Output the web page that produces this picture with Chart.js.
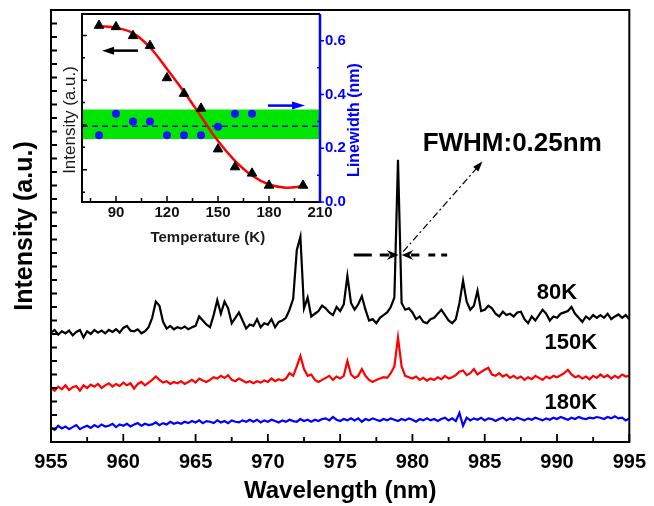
<!DOCTYPE html>
<html>
<head>
<meta charset="utf-8">
<script src="https://cdn.jsdelivr.net/npm/chart.js@4.4.0/dist/chart.umd.min.js"></script>
<style>
  html, body { margin: 0; padding: 0; background: #fff; }
  #wrap { position: relative; width: 654px; height: 506px; }
  #main { position: absolute; left: 0; top: 0; }
  #inset { position: absolute; left: 56px; top: 0; }
</style>
</head>
<body>
<div id="wrap">
  <canvas id="main" width="654" height="506"></canvas>
  <canvas id="inset" width="330" height="250"></canvas>
</div>
<script>
const FONT = "'Liberation Sans', Arial, Helvetica, sans-serif";

// ---- main spectra: sampled every 0.25 nm, one row per nm (955 ... 995) ----
const wavelengths = Array.from({ length: 161 }, (_, i) => 955 + i * 0.25);
const spec80K = [
  8.1, 8.3, 7.95, 8.2,
  8.05, 8.25, 7.9, 8.15,
  8.3, 7.75, 8.2, 8.0,
  8.3, 8.1, 8.25, 8.05,
  8.3, 8.15, 8.35, 8.1,
  8.45, 8.6, 8.25, 8.2,
  8.35, 8.05, 8.2, 8.5,
  9.2, 10.4, 10.1, 8.9,
  8.4, 8.6, 8.35, 8.5,
  8.4, 8.55, 8.35, 8.5,
  8.6, 9.3, 9.0, 8.7,
  8.5, 9.4, 10.5, 9.5,
  10.4, 9.9, 8.8, 9.2,
  9.6, 9.0, 8.4, 8.7,
  8.6, 9.1, 8.5, 8.8,
  8.7, 9.1, 8.5, 8.9,
  9.0, 9.2, 9.8, 10.6,
  14.2, 15.2, 9.9, 10.7,
  9.3, 9.5, 9.7, 10.1,
  9.9, 9.6, 9.4, 10.0,
  9.7, 10.2, 12.3, 10.3,
  9.8, 10.2, 10.8, 9.8,
  9.0, 9.1, 8.8, 9.2,
  9.4, 9.6, 10.0, 10.7,
  20.9, 10.3, 9.8, 9.9,
  9.6, 9.1, 9.3, 8.9,
  8.8, 9.1, 9.2, 9.5,
  9.8, 9.4, 9.0, 8.8,
  9.1, 10.3, 11.95, 10.4,
  9.8, 10.1, 11.2, 9.7,
  9.8, 10.1, 9.9, 9.5,
  9.3, 9.65, 9.4, 9.5,
  9.3, 9.6, 9.65, 9.1,
  8.8, 9.3, 9.0, 9.4,
  9.8, 9.5, 9.0, 9.3,
  9.2, 9.5, 9.6, 9.7,
  10.0, 9.5, 9.2, 8.9,
  9.3, 9.1, 9.4, 9.2,
  9.4, 9.2, 9.5, 9.1,
  9.3, 9.45, 9.2, 9.4,
  9.1
];
const spec150K = [
  4.0, 3.8, 4.1, 3.9,
  4.2, 3.85, 4.05, 4.15,
  3.8, 4.2, 4.0, 4.25,
  4.1, 4.3, 4.0, 4.2,
  4.35, 4.1, 4.3, 4.15,
  4.4, 4.2, 4.35, 3.95,
  4.3, 4.45, 4.2, 4.4,
  4.6, 4.85, 4.6, 4.4,
  4.5, 4.3, 4.45, 4.35,
  4.5, 4.3, 4.45, 4.6,
  4.4, 4.7, 4.55, 4.45,
  4.6, 4.8, 4.7, 4.9,
  4.75, 4.95, 4.6, 4.5,
  4.7, 4.55, 4.4, 4.5,
  4.35, 4.5, 4.4, 4.55,
  4.45, 4.7, 4.5, 4.65,
  4.55, 4.7, 5.1, 4.9,
  5.6, 6.37, 5.4, 4.9,
  5.0, 4.6, 4.45, 4.6,
  4.75, 4.9, 4.6, 4.85,
  4.7, 4.9, 6.0, 5.0,
  4.75, 4.9, 5.4, 4.9,
  4.6, 4.45, 4.6, 4.7,
  4.8, 4.75, 5.1, 5.6,
  7.75, 5.6, 4.9, 4.8,
  4.7, 4.85, 4.6, 4.75,
  4.55, 4.7, 4.6, 4.8,
  4.65, 4.9, 4.7, 4.8,
  4.95, 5.2, 5.3, 4.95,
  5.1, 5.4, 5.0, 5.2,
  5.35, 5.5, 5.0, 4.9,
  5.1, 4.85, 5.0, 4.75,
  4.9, 4.7, 4.85, 4.6,
  4.8, 4.65, 4.9, 4.75,
  4.6, 4.85, 4.7, 4.9,
  4.8, 4.95, 5.1, 5.35,
  5.0, 4.8, 4.9, 4.7,
  4.85, 4.65, 4.9, 4.75,
  5.0, 4.8, 4.95, 4.7,
  4.9, 4.75, 5.0, 4.85,
  4.9
];
const spec180K = [
  1.05, 0.9, 1.2, 1.0,
  1.15, 0.95, 1.1, 1.25,
  0.95, 1.1, 1.2, 1.05,
  1.25, 1.1, 1.3, 1.15,
  1.2, 1.35, 1.1, 1.3,
  1.2, 1.35, 1.15, 1.3,
  1.4, 1.2, 1.35, 1.25,
  1.3, 1.45, 1.25, 1.4,
  1.3, 1.5, 1.35, 1.45,
  1.35, 1.5, 1.4, 1.55,
  1.45, 1.6, 1.4, 1.55,
  1.5, 1.4, 1.6, 1.45,
  1.55, 1.4, 1.6, 1.5,
  1.45, 1.6, 1.5, 1.65,
  1.5, 1.65, 1.45, 1.6,
  1.5, 1.65, 1.55, 1.45,
  1.6, 1.5, 1.65, 1.55,
  1.5, 1.7, 1.55, 1.65,
  1.5, 1.65, 1.55, 1.7,
  1.75, 1.6, 1.85, 1.65,
  1.55, 1.7, 1.6, 1.75,
  1.6, 1.75, 1.5, 1.7,
  1.6, 1.75, 1.65, 1.55,
  1.7, 1.6, 1.75, 1.65,
  1.55, 1.7, 1.6, 1.75,
  1.65, 1.5, 1.7, 1.6,
  1.75, 1.6, 1.7, 1.55,
  1.7, 1.8, 1.6, 1.75,
  1.55, 2.15, 1.2, 1.8,
  1.6, 1.75, 1.65, 1.8,
  1.6, 1.75, 1.7, 1.55,
  1.7, 1.8, 1.6, 1.75,
  1.65, 1.8, 1.7, 1.6,
  1.75, 1.65, 1.8, 1.7,
  1.6, 1.75, 1.65, 1.8,
  1.7, 1.85, 1.75, 1.65,
  1.8, 1.7, 1.85, 1.75,
  1.7, 1.8, 1.75, 1.85,
  1.8, 1.7, 1.85, 1.75,
  1.9, 1.75, 1.8, 1.6,
  1.75
];
const xTicks = [955, 960, 965, 970, 975, 980, 985, 990, 995];
const xMinorTicks = [957.5, 962.5, 967.5, 972.5, 977.5, 982.5, 987.5, 992.5];
const yTicks = [1, 2, 3, 4, 5, 6, 7, 8, 9, 10, 11, 12, 13, 14, 15, 16, 17, 18, 19, 20,
  21, 22, 23, 24, 25, 26, 27, 28, 29, 30, 31];

// ---- inset: temperature dependence ----
const tempTri = [80, 90, 100, 110, 120, 130, 140, 150, 160, 170, 180, 200];
const intensityTri = [4.22, 4.19, 3.99, 3.77, 3.05, 2.70, 2.37, 1.46, 1.06, 0.92, 0.65, 0.65];
const tempFit = [80, 90, 100, 110, 120, 130, 140, 150, 160, 170, 180, 190, 200];
const intensityFit = [4.21, 4.17, 4.05, 3.73, 3.25, 2.74, 2.19, 1.64, 1.20, 0.87, 0.67, 0.60, 0.63];
const tempLw = [80, 90, 100, 110, 120, 130, 140, 150, 160, 170];
const linewidthNm = [0.249, 0.329, 0.30, 0.30, 0.249, 0.249, 0.249, 0.28, 0.329, 0.329];
const lwBand = [0.235, 0.344];
const lwMean = 0.282;
const tempRange = [70, 210];
const tempTicks = [90, 120, 150, 180, 210];
const tempMinorTicks = [75, 105, 135, 165, 195];
const lwTicks = [0, 0.2, 0.4, 0.6];
const lwMinorTicks = [0.1, 0.3, 0.5];
const intTicks = [1, 2, 3, 4];
const intMinorTicks = [0.5, 1.5, 2.5, 3.5];

function pts(xs, ys) { return xs.map((v, i) => ({ x: v, y: ys[i] })); }

function arrowHead(ctx, x0, y0, x1, y1, len, half) {
  const a = Math.atan2(y1 - y0, x1 - x0);
  ctx.beginPath();
  ctx.moveTo(x1, y1);
  ctx.lineTo(x1 - len * Math.cos(a) + half * Math.sin(a), y1 - len * Math.sin(a) - half * Math.cos(a));
  ctx.lineTo(x1 - len * Math.cos(a) - half * Math.sin(a), y1 - len * Math.sin(a) + half * Math.cos(a));
  ctx.closePath();
  ctx.fill();
}

// annotation positions in data units (wavelength, intensity)
const tempLabels = [
  { text: '80K', x: 990.0, y: 11.07 },
  { text: '150K', x: 990.96, y: 7.33 },
  { text: '180K', x: 990.96, y: 2.89 }
];

const mainDecor = {
  id: 'mainDecor',
  afterDraw(chart) {
    const { ctx, chartArea: a, scales: { x, y } } = chart;
    ctx.save();
    ctx.strokeStyle = '#000';
    ctx.lineWidth = 2;
    ctx.strokeRect(a.left, a.top, a.right - a.left, a.bottom - a.top);
    ctx.lineWidth = 1.8;
    ctx.beginPath();
    xTicks.forEach(v => { const p = x.getPixelForValue(v); ctx.moveTo(p, a.bottom); ctx.lineTo(p, a.bottom - 8); });
    xMinorTicks.forEach(v => { const p = x.getPixelForValue(v); ctx.moveTo(p, a.bottom); ctx.lineTo(p, a.bottom - 5); });
    yTicks.forEach(v => { const p = y.getPixelForValue(v); ctx.moveTo(a.left, p); ctx.lineTo(a.left + 6, p); });
    ctx.stroke();

    ctx.fillStyle = '#000';
    ctx.textAlign = 'center';
    ctx.textBaseline = 'middle';
    ctx.font = `bold 22px ${FONT}`;
    tempLabels.forEach(l => ctx.fillText(l.text, x.getPixelForValue(l.x), y.getPixelForValue(l.y)));
    ctx.font = `bold 26px ${FONT}`;
    ctx.fillText('FWHM:0.25nm', x.getPixelForValue(986.9), y.getPixelForValue(22.07));

    // dash-dot pointer from the peak to the label
    const px0 = x.getPixelForValue(979.36), py0 = y.getPixelForValue(14.1);
    const px1 = x.getPixelForValue(984.84), py1 = y.getPixelForValue(20.77);
    ctx.lineWidth = 1.3;
    ctx.setLineDash([7, 3, 2, 3]);
    ctx.beginPath(); ctx.moveTo(px0, py0); ctx.lineTo(px1, py1); ctx.stroke();
    ctx.setLineDash([]);
    arrowHead(ctx, px0, py0, px1, py1, 10, 3.5);

    // FWHM markers
    const hy = y.getPixelForValue(13.85);
    ctx.lineWidth = 3;
    ctx.beginPath();
    ctx.moveTo(x.getPixelForValue(975.94), hy); ctx.lineTo(x.getPixelForValue(977.19), hy);
    ctx.moveTo(x.getPixelForValue(977.74), hy); ctx.lineTo(x.getPixelForValue(978.4), hy);
    ctx.moveTo(x.getPixelForValue(979.9), hy); ctx.lineTo(x.getPixelForValue(980.48), hy);
    ctx.moveTo(x.getPixelForValue(981.1), hy); ctx.lineTo(x.getPixelForValue(981.58), hy);
    ctx.moveTo(x.getPixelForValue(981.99), hy); ctx.lineTo(x.getPixelForValue(982.4), hy);
    ctx.stroke();
    const head = (tip, back, notch) => {
      const t = x.getPixelForValue(tip), b = x.getPixelForValue(back), n = x.getPixelForValue(notch);
      ctx.beginPath();
      ctx.moveTo(t, hy); ctx.lineTo(b, hy - 5); ctx.lineTo(n, hy); ctx.lineTo(b, hy + 5);
      ctx.closePath(); ctx.fill();
    };
    head(979.04, 978.22, 978.49);
    head(979.25, 980.07, 979.79);
    ctx.restore();
  }
};

new Chart(document.getElementById('main'), {
  type: 'line',
  data: {
    datasets: [
      { label: '80K', data: pts(wavelengths, spec80K), borderColor: '#000000', borderWidth: 2.2, pointRadius: 0, tension: 0 },
      { label: '150K', data: pts(wavelengths, spec150K), borderColor: '#ff0000', borderWidth: 2.2, pointRadius: 0, tension: 0 },
      { label: '180K', data: pts(wavelengths, spec180K), borderColor: '#0000ff', borderWidth: 2.2, pointRadius: 0, tension: 0 }
    ]
  },
  options: {
    responsive: false,
    animation: false,
    devicePixelRatio: 1,
    layout: { padding: { top: 10, right: 19, left: 0, bottom: 0 } },
    plugins: { legend: { display: false }, tooltip: { enabled: false } },
    scales: {
      x: {
        type: 'linear', min: 955, max: 995,
        afterBuildTicks: s => { s.ticks = xTicks.map(v => ({ value: v })); },
        afterFit: s => { s.height = 64; },
        grid: { display: false, drawTicks: false },
        border: { display: false },
        ticks: { color: '#000', padding: 8, maxRotation: 0, autoSkip: false, font: { family: FONT, size: 20, weight: 'bold' } },
        title: { display: true, text: 'Wavelength (nm)', color: '#000', padding: { top: 0, bottom: 0 }, font: { family: FONT, size: 24, weight: 'bold' } }
      },
      y: {
        type: 'linear', min: 0, max: 32,
        afterFit: s => { s.width = 51; },
        grid: { display: false, drawTicks: false },
        border: { display: false },
        ticks: { display: false },
        title: { display: true, text: 'Intensity (a.u.)', color: '#000', padding: { top: 10, bottom: 0 }, font: { family: FONT, size: 25, weight: 'bold' } }
      }
    }
  },
  plugins: [mainDecor]
});

const insetDecor = {
  id: 'insetDecor',
  afterDraw(chart) {
    const { ctx, chartArea: a, scales: { x, y, y1 } } = chart;
    ctx.save();
    ctx.strokeStyle = '#000';
    ctx.lineWidth = 2;
    ctx.beginPath();
    ctx.moveTo(a.right, a.top); ctx.lineTo(a.left, a.top); ctx.lineTo(a.left, a.bottom); ctx.lineTo(a.right, a.bottom);
    ctx.stroke();
    ctx.lineWidth = 1.5;
    ctx.beginPath();
    tempTicks.forEach(v => { const p = x.getPixelForValue(v); ctx.moveTo(p, a.bottom); ctx.lineTo(p, a.bottom - 6); });
    tempMinorTicks.forEach(v => { const p = x.getPixelForValue(v); ctx.moveTo(p, a.bottom); ctx.lineTo(p, a.bottom - 4); });
    intTicks.forEach(v => { const p = y.getPixelForValue(v); ctx.moveTo(a.left, p); ctx.lineTo(a.left + 5, p); });
    intMinorTicks.forEach(v => { const p = y.getPixelForValue(v); ctx.moveTo(a.left, p); ctx.lineTo(a.left + 3, p); });
    ctx.stroke();

    ctx.strokeStyle = '#0000ff';
    ctx.lineWidth = 2.5;
    ctx.beginPath(); ctx.moveTo(a.right, a.top); ctx.lineTo(a.right, a.bottom + 1); ctx.stroke();
    ctx.lineWidth = 1.5;
    ctx.beginPath();
    lwTicks.forEach(v => { const p = y1.getPixelForValue(v); ctx.moveTo(a.right, p); ctx.lineTo(a.right + 4, p); });
    lwMinorTicks.forEach(v => { const p = y1.getPixelForValue(v); ctx.moveTo(a.right, p); ctx.lineTo(a.right - 3, p); });
    ctx.stroke();

    // axis arrows
    const bx0 = x.getPixelForValue(102.9), bx1 = x.getPixelForValue(81.8), by = y.getPixelForValue(3.66);
    ctx.strokeStyle = '#000'; ctx.fillStyle = '#000'; ctx.lineWidth = 2.5;
    ctx.beginPath(); ctx.moveTo(bx0, by); ctx.lineTo(bx1 + 8, by); ctx.stroke();
    arrowHead(ctx, bx0, by, bx1, by, 12, 4);
    const rx0 = x.getPixelForValue(179.4), rx1 = x.getPixelForValue(201.2), ry = y1.getPixelForValue(0.359);
    ctx.strokeStyle = '#0000ff'; ctx.fillStyle = '#0000ff';
    ctx.beginPath(); ctx.moveTo(rx0, ry); ctx.lineTo(rx1 - 8, ry); ctx.stroke();
    arrowHead(ctx, rx0, ry, rx1, ry, 13, 4);

    // titles
    ctx.textAlign = 'center';
    ctx.textBaseline = 'middle';
    ctx.fillStyle = '#1a1a1a';
    ctx.font = `bold 15px ${FONT}`;
    ctx.fillText('Temperature (K)', x.getPixelForValue(144), a.bottom + 36);
    ctx.save();
    ctx.translate(a.left - 12, a.top + 106);
    ctx.rotate(-Math.PI / 2);
    ctx.font = `17px ${FONT}`;
    ctx.fillText('Intensity (a.u.)', 0, 0);
    ctx.restore();
    ctx.save();
    ctx.translate(a.right + 35, a.top + 106);
    ctx.rotate(-Math.PI / 2);
    ctx.fillStyle = '#0000ff';
    ctx.font = `bold 16px ${FONT}`;
    ctx.fillText('Linewidth (nm)', 0, 0);
    ctx.restore();
    ctx.restore();
  }
};

new Chart(document.getElementById('inset'), {
  type: 'line',
  data: {
    datasets: [
      { label: 'Linewidth', yAxisID: 'y1', data: pts(tempLw, linewidthNm), showLine: false, pointStyle: 'circle', pointRadius: 4, pointBackgroundColor: '#1414ff', pointBorderWidth: 0 },
      { label: 'Intensity', yAxisID: 'y', data: pts(tempTri, intensityTri), showLine: false, pointStyle: 'triangle', pointRadius: 5.5, pointBackgroundColor: '#000', pointBorderColor: '#000', pointBorderWidth: 1 },
      { label: 'Fit', yAxisID: 'y', data: pts(tempFit, intensityFit), borderColor: '#ff0000', borderWidth: 2.5, pointRadius: 0, tension: 0.4 },
      { label: 'Mean', yAxisID: 'y1', data: pts(tempRange, [lwMean, lwMean]), borderColor: '#1a1ab0', borderWidth: 1.4, borderDash: [6, 4], pointRadius: 0 },
      { label: 'Band top', yAxisID: 'y1', data: pts(tempRange, [lwBand[1], lwBand[1]]), borderWidth: 0, pointRadius: 0, fill: '+1', backgroundColor: '#00e600' },
      { label: 'Band bottom', yAxisID: 'y1', data: pts(tempRange, [lwBand[0], lwBand[0]]), borderWidth: 0, pointRadius: 0, fill: false }
    ]
  },
  options: {
    responsive: false,
    animation: false,
    devicePixelRatio: 1,
    layout: { padding: { top: 11, right: 0, left: 0, bottom: 0 } },
    plugins: { legend: { display: false }, tooltip: { enabled: false } },
    scales: {
      x: {
        type: 'linear', min: tempRange[0], max: tempRange[1],
        afterBuildTicks: s => { s.ticks = tempTicks.map(v => ({ value: v })); },
        afterFit: s => { s.height = 48; },
        grid: { display: false, drawTicks: false },
        border: { display: false },
        ticks: { color: '#111', padding: 2, maxRotation: 0, autoSkip: false, font: { family: FONT, size: 15, weight: 'bold' } }
      },
      y: {
        type: 'linear', position: 'left', min: 0.28, max: 4.478,
        afterFit: s => { s.width = 26; },
        grid: { display: false, drawTicks: false },
        border: { display: false },
        ticks: { display: false }
      },
      y1: {
        type: 'linear', position: 'right', min: 0, max: 0.7,
        afterBuildTicks: s => { s.ticks = lwTicks.map(v => ({ value: v })); },
        afterFit: s => { s.width = 66; },
        grid: { display: false, drawTicks: false },
        border: { display: false },
        ticks: { color: '#0000ff', padding: 5, callback: v => Number(v).toFixed(1), font: { family: FONT, size: 15, weight: 'bold' } }
      }
    }
  },
  plugins: [insetDecor]
});
</script>
</body>
</html>
